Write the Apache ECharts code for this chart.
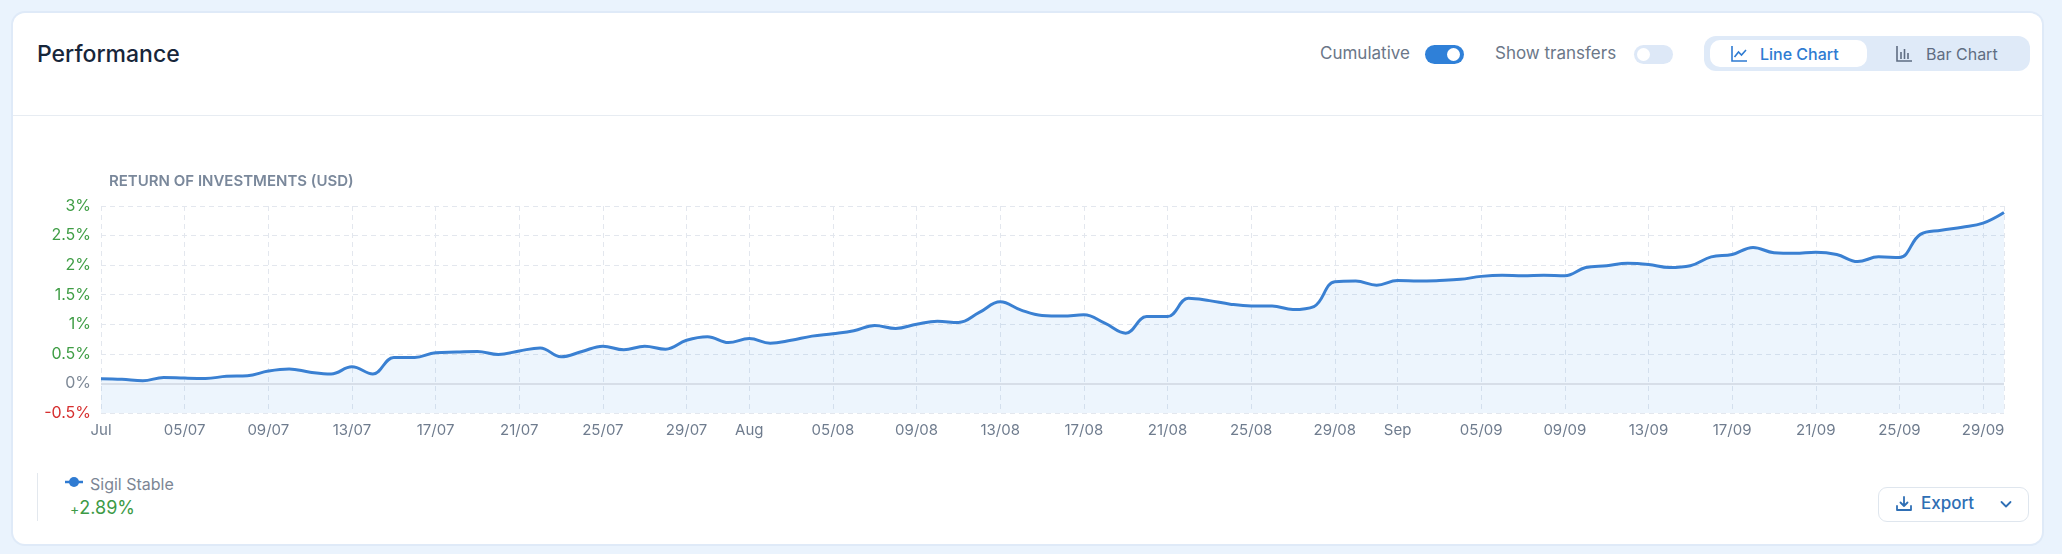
<!DOCTYPE html>
<html>
<head>
<meta charset="utf-8">
<title>Performance</title>
<script src="https://cdn.jsdelivr.net/npm/echarts@6/dist/echarts.min.js"></script>
<style>
  html, body { margin: 0; padding: 0; }
  body {
    width: 2062px; height: 554px; position: relative; overflow: hidden;
    background: #eaf3fd; font-family: Inter, "Noto Sans", sans-serif;
  }
  .card {
    position: absolute; left: 13px; top: 13px; width: 2029px; height: 531px;
    background: #fff; border-radius: 12px; box-shadow: 0 0 0 2px #dfeaf8;
  }
  .abs { position: absolute; }
  .title { left: 37px; top: 40px; font-size: 23px; font-weight: 500; color: #17263a; }
  .sep { left: 13px; top: 115px; width: 2029px; height: 1px; background: #e7ecf2; }
  .lbl { font-size: 17px; color: #6b7788; top: 43px; }
  .tog { width: 39px; height: 19px; border-radius: 10px; top: 45px; }
  .tog i { position: absolute; top: 3px; width: 13px; height: 13px; border-radius: 50%; background: #fff; }
  .seg { left: 1704px; top: 36px; width: 326px; height: 35px; background: #dfeaf8; border-radius: 12px; }
  .pill { left: 1710px; top: 40px; width: 157px; height: 27px; background: #fff; border-radius: 10px; }
  .segtxt { top: 44px; font-size: 16px; font-weight: 500; }
  .legline { left: 37px; top: 473px; width: 1px; height: 48px; background: #e3e8ee; }
  .export {
    left: 1878px; top: 487px; width: 149px; height: 33px; border: 1px solid #dfe6ee;
    border-radius: 9px; background: #fff;
  }
  #chart { position: absolute; left: 0; top: 0; width: 2062px; height: 554px; }
</style>
</head>
<body>
<div class="card"></div>
<div class="abs title">Performance</div>
<div class="abs sep"></div>

<div class="abs lbl" style="left:1320px">Cumulative</div>
<div class="abs tog" style="left:1425px;background:#2f80d8"><i style="left:22px"></i></div>
<div class="abs lbl" style="left:1495px">Show transfers</div>
<div class="abs tog" style="left:1634px;background:#dde8f7"><i style="left:3px"></i></div>

<div class="abs seg"></div>
<div class="abs pill"></div>
<svg class="abs" style="left:1730px;top:45px" width="18" height="18" viewBox="0 0 18 18" fill="none" stroke="#2e7bd2" stroke-width="1.6">
  <path d="M2 1v15h15"/><path d="M4.5 12l4-5 3 3 4.5-5"/>
</svg>
<div class="abs segtxt" style="left:1760px;color:#2e7bd2">Line Chart</div>
<svg class="abs" style="left:1895px;top:45px" width="18" height="18" viewBox="0 0 18 18" fill="none" stroke="#5f6d82" stroke-width="1.6">
  <path d="M2 1v15h15"/><path d="M6 14V7M9.5 14V4M13 14V8"/>
</svg>
<div class="abs segtxt" style="left:1926px;color:#5f6d82;font-weight:400">Bar Chart</div>

<div class="abs legline"></div>
<svg class="abs" style="left:64px;top:475px" width="20" height="14" viewBox="0 0 20 14">
  <line x1="1" y1="7" x2="19" y2="7" stroke="#2f7bd2" stroke-width="2.5"/>
  <circle cx="10" cy="7" r="5" fill="#2f7bd2"/>
</svg>
<div class="abs" style="left:90px;top:474px;font-size:16px;color:#7c8694">Sigil Stable</div>
<div class="abs" style="left:70px;top:497px;font-size:18px;color:#3d9a46"><span style="font-size:14px">+</span>2.89%</div>

<div class="abs export"></div>
<svg class="abs" style="left:1895px;top:495px" width="18" height="18" viewBox="0 0 18 18" fill="none" stroke="#2f6fb5" stroke-width="1.8" stroke-linecap="round" stroke-linejoin="round">
  <path d="M9 2v9M5.5 7.5L9 11l3.5-3.5M2 11v4h14v-4"/>
</svg>
<div class="abs" style="left:1921px;top:493px;font-size:17px;font-weight:500;color:#2f6fb5">Export</div>
<svg class="abs" style="left:1998px;top:496px" width="16" height="16" viewBox="0 0 16 16" fill="none" stroke="#2f6fb5" stroke-width="1.8" stroke-linecap="round" stroke-linejoin="round">
  <path d="M3.5 6l4.5 4.5L12.5 6"/>
</svg>

<div id="chart"></div>

<script>
// dates shown on the x axis (DD/MM), Jul 1 .. Sep 30
const dates = [
  '01/07','02/07','03/07','04/07','05/07','06/07','07/07','08/07','09/07','10/07',
  '11/07','12/07','13/07','14/07','15/07','16/07','17/07','18/07','19/07','20/07',
  '21/07','22/07','23/07','24/07','25/07','26/07','27/07','28/07','29/07','30/07','31/07',
  '01/08','02/08','03/08','04/08','05/08','06/08','07/08','08/08','09/08','10/08',
  '11/08','12/08','13/08','14/08','15/08','16/08','17/08','18/08','19/08','20/08',
  '21/08','22/08','23/08','24/08','25/08','26/08','27/08','28/08','29/08','30/08','31/08',
  '01/09','02/09','03/09','04/09','05/09','06/09','07/09','08/09','09/09','10/09',
  '11/09','12/09','13/09','14/09','15/09','16/09','17/09','18/09','19/09','20/09',
  '21/09','22/09','23/09','24/09','25/09','26/09','27/09','28/09','29/09','30/09'
];

// cumulative return in %
const returns = [
  0.08, 0.07, 0.045, 0.10, 0.09, 0.085, 0.12, 0.13, 0.21, 0.245,
  0.19, 0.16, 0.28, 0.16, 0.44, 0.44, 0.52, 0.53, 0.54, 0.49,
  0.55, 0.60, 0.45, 0.54, 0.63, 0.57, 0.63, 0.58, 0.73, 0.79, 0.69,
  0.76, 0.68, 0.73, 0.80, 0.84, 0.89, 0.98, 0.93, 1.00, 1.05,
  1.03, 1.20, 1.38, 1.24, 1.15, 1.14, 1.16, 1.02, 0.85, 1.13,
  1.13, 1.44, 1.40, 1.34, 1.31, 1.31, 1.25, 1.30, 1.72, 1.73, 1.66,
  1.74, 1.73, 1.74, 1.76, 1.81, 1.83, 1.82, 1.83, 1.82, 1.96,
  1.99, 2.03, 2.01, 1.96, 1.99, 2.14, 2.18, 2.30, 2.21, 2.20,
  2.22, 2.18, 2.06, 2.14, 2.13, 2.52, 2.59, 2.64, 2.71, 2.89
];

// tick labels
const tickDays = [1, 5, 9, 13, 17, 21, 25, 29];
const monthNames = { '07': 'Jul', '08': 'Aug', '09': 'Sep' };

const chart = echarts.init(document.getElementById('chart'));

const isTick = (idx, val) => tickDays.includes(parseInt(val.slice(0, 2), 10));

const option = {
  animation: false,
  title: {
    text: 'RETURN OF INVESTMENTS (USD)',
    left: 104,
    top: 169,
    textStyle: { fontSize: 15, fontWeight: 600, color: '#7a889b', fontFamily: 'Inter' }
  },
  grid: { left: 101, right: 58, top: 206, bottom: 141 },
  xAxis: {
    type: 'category',
    data: dates,
    boundaryGap: false,
    axisLine: { show: false },
    axisTick: { show: false },
    axisLabel: {
      interval: isTick,
      margin: 10,
      color: '#6f7c8e',
      fontSize: 15,
      fontFamily: 'Inter',
      formatter: v => v.slice(0, 2) === '01' ? monthNames[v.slice(3)] : v
    },
    splitLine: {
      show: true,
      interval: (idx, val) => isTick(idx, val) || idx === dates.length - 1,
      lineStyle: { color: '#e3e7ee', type: [5, 4] }
    }
  },
  yAxis: {
    type: 'value',
    min: -0.5,
    max: 3,
    interval: 0.5,
    axisLine: { show: false },
    axisTick: { show: false },
    axisLabel: {
      margin: 10,
      fontFamily: 'Inter',
      fontSize: 16,
      formatter: v => v > 0 ? '{p|' + v + '%}' : v < 0 ? '{n|' + v + '%}' : '{z|0%}',
      rich: {
        p: { color: '#3f9d45', fontSize: 16, fontFamily: 'Inter' },
        n: { color: '#d62f2f', fontSize: 16, fontFamily: 'Inter' },
        z: { color: '#7d8896', fontSize: 16, fontFamily: 'Inter' }
      }
    },
    splitLine: { lineStyle: { color: '#e3e7ee', type: [5, 4] } }
  },
  series: [{
    name: 'Sigil Stable',
    type: 'line',
    data: returns,
    smooth: 0.4,
    symbol: 'none',
    lineStyle: { color: '#3a80d2', width: 3 },
    areaStyle: { color: 'rgba(60,140,230,0.13)', origin: 'start' },
    markLine: {
      silent: true,
      symbol: 'none',
      label: { show: false },
      lineStyle: { color: '#d7dee8', type: 'solid', width: 2 },
      data: [{ yAxis: 0 }]
    }
  }]
};

chart.setOption(option);
</script>
</body>
</html>
